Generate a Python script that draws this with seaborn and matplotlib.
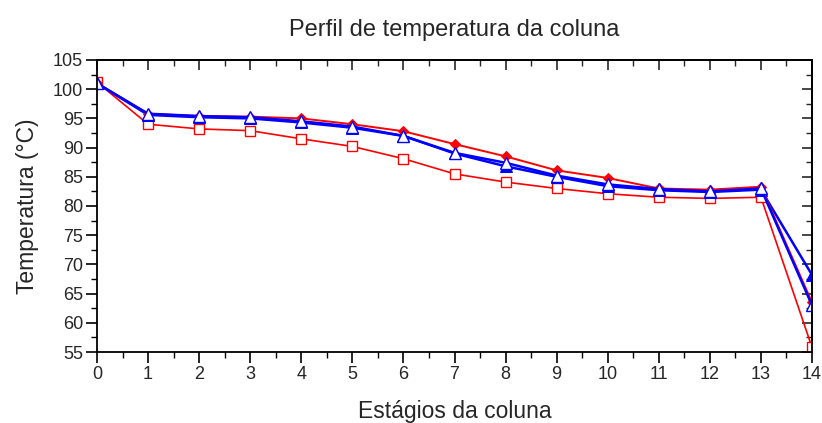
import matplotlib
matplotlib.use("Agg")
import matplotlib.pyplot as plt
from matplotlib.ticker import MultipleLocator
import seaborn as sns

stages = list(range(15))
red_squares = [101.2, 94.0, 93.2, 92.9, 91.5, 90.2, 88.1, 85.5, 84.1, 83.0, 82.1, 81.5, 81.3, 81.5, 55.8]
red_diamonds = [101.0, 95.8, 95.4, 95.3, 95.0, 94.0, 92.8, 90.6, 88.5, 86.1, 84.8, 83.0, 82.8, 83.3, 63.5]
blue_open = [101.0, 95.8, 95.4, 95.2, 94.5, 93.6, 92.0, 89.1, 87.4, 85.2, 83.7, 82.9, 82.5, 83.0, 63.0]
blue_filled = [101.0, 95.6, 95.2, 95.0, 94.3, 93.4, 92.0, 89.0, 86.8, 85.0, 83.4, 82.7, 82.4, 82.8, 68.2]

title = "Perfil de temperatura da coluna"
xlabel = "Estágios da coluna"
ylabel = "Temperatura (°C)"

sns.set_style("ticks")
plt.rcParams['font.family'] = ['Liberation Sans', 'DejaVu Sans']

fig = plt.figure(figsize=(8.22, 4.23), dpi=100)
ax = fig.add_axes([97/822, 71/423, 715/822, 292/423])

sns.lineplot(x=stages, y=red_squares, ax=ax, color="#ff0000", lw=1.2,
             marker="s", markersize=7, markerfacecolor="white", markeredgecolor="#ff0000",
             markeredgewidth=1.0)
sns.lineplot(x=stages, y=blue_filled, ax=ax, color="#0000ff", lw=1.8,
             marker="^", markersize=9, markerfacecolor="#0000ff", markeredgecolor="#0000ff")
sns.lineplot(x=stages, y=red_diamonds, ax=ax, color="#ff0000", lw=1.4,
             marker="D", markersize=5, markerfacecolor="#ff0000", markeredgecolor="#ff0000")
sns.lineplot(x=stages, y=blue_open, ax=ax, color="#0000ff", lw=1.8,
             marker="^", markersize=9, markerfacecolor="white", markeredgecolor="#0000ff",
             markeredgewidth=1.0)

ax.set_xlim(0, 14)
ax.set_ylim(55, 105)
for a in (ax.xaxis,):
    a.set_major_locator(MultipleLocator(1))
    a.set_minor_locator(MultipleLocator(0.5))
ax.yaxis.set_major_locator(MultipleLocator(5))
ax.yaxis.set_minor_locator(MultipleLocator(2.5))
ax.tick_params(which="major", direction="out", length=8, width=1.2, labelsize=13,
               pad=2, color="black", top=False, right=False)
ax.tick_params(which="minor", direction="out", length=4.5, width=1.0,
               color="black", top=False, right=False)

# mirrored inward ticks on top and right
sx = ax.secondary_xaxis('top')
sx.xaxis.set_major_locator(MultipleLocator(1))
sx.xaxis.set_minor_locator(MultipleLocator(0.5))
sx.tick_params(which="major", direction="in", length=7, width=1.2, labeltop=False)
sx.tick_params(which="minor", direction="in", length=4, width=1.0)
sy = ax.secondary_yaxis('right')
sy.yaxis.set_major_locator(MultipleLocator(5))
sy.yaxis.set_minor_locator(MultipleLocator(2.5))
sy.tick_params(which="major", direction="in", length=7, width=1.2, labelright=False)
sy.tick_params(which="minor", direction="in", length=4, width=1.0)

for s in list(ax.spines.values()) + [sx.spines['top'], sy.spines['right']]:
    s.set_visible(True)
    s.set_color("black")
    s.set_linewidth(1.3)

ax.set_title(title, fontsize=17, pad=17)
ax.set_xlabel(xlabel, fontsize=16.5, labelpad=12)
ax.set_ylabel(ylabel, fontsize=16.5, labelpad=10)
if ax.get_legend():
    ax.get_legend().remove()

fig.savefig("out.png", dpi=100)
